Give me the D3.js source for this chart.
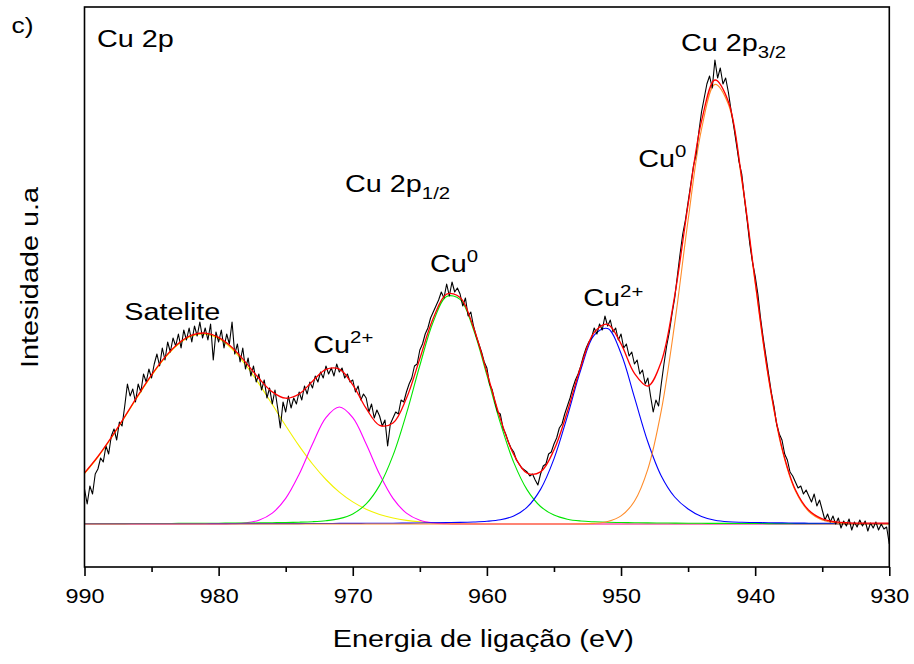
<!DOCTYPE html>
<html><head><meta charset="utf-8">
<script src="https://cdn.jsdelivr.net/npm/d3@7/dist/d3.min.js"></script>
<style>
body{margin:0;background:#fff}
text{font-family:Arial,"Liberation Sans",Helvetica,sans-serif;fill:#000}
</style>
</head><body>
<svg id="chart" width="914" height="664"></svg>
<script>
// ---------------- DATA ----------------
// binding energy grid of the fitted components (eV), 990 -> 930, step 1 eV
const fitStart = 990, fitStep = -1;
// binding energy grid of the measured spectrum (eV), 990 -> 930, step 0.2 eV
const dataStart = 990, dataStep = -0.2;

const xTicks = [990, 980, 970, 960, 950, 940, 930];
const xMinorTicks = [985, 975, 965, 955, 945, 935];

// fitted components (intensity above background, a.u.)
const satelite = [
 50.4, 66.9, 86.0, 106.7, 128.0, 148.3, 166.1, 179.7, 187.9, 189.9,
 185.4, 174.9, 159.4, 140.4, 119.5, 98.3, 78.1, 60.0, 44.5, 31.9,
 22.1, 14.8, 9.6, 6.0, 3.6, 2.1, 1.2, 0.6, 0.3, 0.1,
 0, 0, 0, 0, 0, 0, 0, 0, 0, 0,
 0, 0, 0, 0, 0, 0, 0, 0, 0, 0,
 0, 0, 0, 0, 0, 0, 0, 0, 0, 0,
 0];
const cu2p12Cu2 = [
 0, 0, 0, 0, 0, 0, 0, 0, 0, 0,
 0, 0.3, 1.1, 3.8, 10.9, 25.6, 49.7, 80.0, 106.4, 117.0,
 106.4, 80.0, 49.7, 25.6, 10.9, 3.8, 1.1, 0.3, 0, 0,
 0, 0, 0, 0, 0, 0, 0, 0, 0, 0,
 0, 0, 0, 0, 0, 0, 0, 0, 0, 0,
 0, 0, 0, 0, 0, 0, 0, 0, 0, 0,
 0];
const cu2p12Cu0 = [
 0.4, 0.4, 0.4, 0.4, 0.5, 0.5, 0.5, 0.6, 0.6, 0.7,
 0.8, 0.9, 1.0, 1.1, 1.3, 1.5, 1.8, 2.3, 3.3, 5.4,
 10.1, 20.1, 38.6, 68.6, 110.3, 158.5, 202.2, 227.6, 224.6, 194.5,
 148.8, 101.2, 61.6, 34.1, 17.5, 8.9, 4.8, 3.0, 2.2, 1.7,
 1.5, 1.3, 1.1, 1.0, 0.9, 0.8, 0.7, 0.6, 0.6, 0.5,
 0.5, 0.4, 0.4, 0.4, 0.4, 0.3, 0.3, 0.3, 0.3, 0.3,
 0.3];
const cu2p32Cu2 = [
 0.2, 0.2, 0.2, 0.2, 0.3, 0.3, 0.3, 0.3, 0.3, 0.3,
 0.4, 0.4, 0.4, 0.4, 0.4, 0.4, 0.4, 0.5, 0.5, 0.6,
 0.6, 0.7, 0.8, 0.8, 0.9, 1.0, 1.2, 1.4, 1.6, 2.0,
 2.7, 4.2, 8.0, 16.8, 34.6, 65.1, 107.7, 154.2, 188.8, 195.5,
 170.5, 126.6, 82.0, 48.0, 27.0, 15.0, 7.5, 3.8, 2.2, 1.7,
 1.5, 1.2, 1.1, 0.9, 0.8, 0.7, 0.7, 0.6, 0.5, 0.5,
 0.5];
const cu2p32Cu0 = [
 0, 0, 0, 0, 0, 0, 0, 0, 0, 0,
 0, 0, 0, 0, 0, 0, 0, 0, 0, 0,
 0, 0, 0, 0, 0, 0, 0, 0, 0, 0,
 0, 0, 0, 0, 0, 0, 0, 0.1, 0.6, 2.5,
 8.1, 22.8, 54.9, 113.3, 200.3, 303.8, 394.7, 439.6, 419.8, 343.6,
 241.0, 145.0, 74.7, 33.0, 12.5, 4.1, 1.1, 0.3, 0.1, 0,
 0];

// measured spectrum (a.u.)
const spectrum = [
 35, 20, 38, 30, 50,   55, 66, 62, 78, 70,   88, 95, 84, 102, 98,
 118, 140, 128, 135, 122,   140, 132, 150, 142, 155,   146, 160, 170, 158, 176,
 164, 182, 172, 186, 178,   190, 176, 194, 184, 196,   182, 198, 188, 202, 186,
 196, 184, 200, 164, 192,   182, 194, 176, 190, 180,   202, 170, 180, 162, 176,
 155, 166, 148, 158, 142,   150, 134, 144, 126, 136,   120, 134, 116, 96, 122,
 112, 128, 116, 126, 120,   132, 124, 138, 130, 142,   136, 148, 142, 152, 146,
 158, 150, 156, 148, 160,   152, 156, 146, 150, 142,   144, 132, 138, 124, 130,
 126, 112, 120, 106, 114,   108, 98, 104, 78, 100,   106, 112, 110, 124, 122,
 132, 140, 146, 158, 160,   174, 180, 190, 196, 206,   212, 218, 224, 232, 226,
 240, 228, 242, 232, 236,   230, 218, 226, 208, 212,   198, 188, 180, 172, 162,
 156, 140, 134, 122, 112,   110, 96, 90, 82, 76,   72, 64, 60, 56, 54,
 52, 48, 50, 44, 39,   50, 58, 60, 70, 72,   80, 86, 96, 100, 110,
 118, 126, 136, 144, 150,   158, 168, 176, 182, 186,   196, 190, 200, 194, 208,
 198, 204, 192, 196, 184,   190, 176, 180, 168, 172,   160, 164, 150, 154, 140,
 146, 128, 112, 124, 118,   140, 160, 178, 192, 210,   226, 248, 270, 290, 304,
 322, 340, 358, 370, 392,   412, 426, 440, 448, 436,   464, 446, 456, 440, 446,
 432, 414, 398, 380, 362,   350, 326, 304, 280, 262,   248, 230, 206, 186, 168,
 150, 132, 118, 100, 90,   84, 70, 64, 52, 48,   42, 36, 38, 30, 34,
 28, 22, 30, 18, 24,   14, 4, 10, 2, 8,   0, 6, -4, 3, -2,
 5, -6, 2, -3, 4,   -2, 3, -7, 1, -4,   2, -6, 0, -5, -3,
 -20];

// ---------------- CHART ----------------
const svg = d3.select("#chart");
const plot = {left: 84.5, right: 889.3, top: 7, bottom: 567};
const x = d3.scaleLinear().domain([990, 930]).range([plot.left, plot.right]);
const y = d3.scaleLinear().domain([-43, 517]).range([plot.bottom, plot.top]);

const fitE = satelite.map((_, i) => +(fitStart + i * fitStep).toFixed(2));
const dataE = spectrum.map((_, i) => +(dataStart + i * dataStep).toFixed(2));

const components = [
  {name: "Satelite", vals: satelite, color: "#f2f200"},
  {name: "Cu2+ 2p1/2", vals: cu2p12Cu2, color: "#ff00ff"},
  {name: "Cu0 2p1/2", vals: cu2p12Cu0, color: "#00e600"},
  {name: "Cu2+ 2p3/2", vals: cu2p32Cu2, color: "#0000ff"},
  {name: "Cu0 2p3/2", vals: cu2p32Cu0, color: "#ff8c2a"}
];
const envelope = fitE.map((e, i) => components.reduce((s, c) => s + c.vals[i], 0));

const smooth = d3.line().x(d => x(d[0])).y(d => y(d[1])).curve(d3.curveCatmullRom.alpha(0.5));
const raw = d3.line().x(d => x(d[0])).y(d => y(d[1]));

svg.append("defs").append("clipPath").attr("id", "clip")
  .append("rect").attr("x", plot.left).attr("y", plot.top)
  .attr("width", plot.right - plot.left).attr("height", plot.bottom - plot.top);

const g = svg.append("g").attr("clip-path", "url(#clip)");

components.forEach(c => {
  g.append("path")
    .attr("d", smooth(fitE.map((e, i) => [e, c.vals[i]])))
    .attr("fill", "none").attr("stroke", c.color).attr("stroke-width", 1.1);
});

g.append("path")
  .attr("d", raw(dataE.map((e, i) => [e, spectrum[i]])))
  .attr("fill", "none").attr("stroke", "#000").attr("stroke-width", 1.1)
  .attr("stroke-linejoin", "round");

g.append("path")
  .attr("d", smooth(fitE.map((e, i) => [e, envelope[i]])))
  .attr("fill", "none").attr("stroke", "#ff0000").attr("stroke-width", 1.3);

// frame
svg.append("rect")
  .attr("x", plot.left).attr("y", plot.top)
  .attr("width", plot.right - plot.left).attr("height", plot.bottom - plot.top)
  .attr("fill", "none").attr("stroke", "#000").attr("stroke-width", 1.6);

// x axis
const axisMajor = svg.append("g").attr("transform", `translate(0,${plot.bottom})`)
  .call(d3.axisBottom(x).tickValues(xTicks).tickSize(9).tickPadding(12.5).tickFormat(d3.format("d")));
const axisMinor = svg.append("g").attr("transform", `translate(0,${plot.bottom})`)
  .call(d3.axisBottom(x).tickValues(xMinorTicks).tickSize(5).tickFormat(""));
[axisMajor, axisMinor].forEach(a => {
  a.select(".domain").remove();
  a.selectAll("line").attr("stroke", "#000").attr("stroke-width", 1.6);
});
axisMajor.selectAll("text")
  .attr("font-size", 20).attr("fill", "#000")
  .attr("font-family", 'Arial, "Liberation Sans", sans-serif')
  .attr("transform", "scale(1.17,1)");

// text helper
function label(px, py, parts, size, anchor, rot) {
  const gg = svg.append("g")
    .attr("transform", `translate(${px},${py})` + (rot ? ` rotate(${rot})` : "") + " scale(1.2,1)");
  const t = gg.append("text").attr("font-size", size).attr("text-anchor", anchor || "start");
  parts.forEach(p => {
    const ts = t.append("tspan").text(p.t);
    if (p.sup) ts.attr("font-size", 17).attr("dy", -9.5);
    if (p.sub) ts.attr("font-size", 17).attr("dy", 6.5);
  });
  return t;
}

label(11.5, 33, [{t: "c)"}], 22);
label(97, 46.5, [{t: "Cu 2p"}], 24);
label(681, 51, [{t: "Cu 2p"}, {t: "3/2", sub: true}], 24);
label(345, 192.3, [{t: "Cu 2p"}, {t: "1/2", sub: true}], 24);
label(638.3, 166.7, [{t: "Cu"}, {t: "0", sup: true}], 24);
label(430, 271.7, [{t: "Cu"}, {t: "0", sup: true}], 24);
label(583.3, 306, [{t: "Cu"}, {t: "2+", sup: true}], 24);
label(313.3, 352.7, [{t: "Cu"}, {t: "2+", sup: true}], 24);
label(124.3, 320, [{t: "Satelite"}], 24);

label(483.3, 647, [{t: "Energia de ligação (eV)"}], 24, "middle");
label(38, 277.5, [{t: "Intesidade u.a"}], 24, "middle", -90);
</script>
</body></html>
